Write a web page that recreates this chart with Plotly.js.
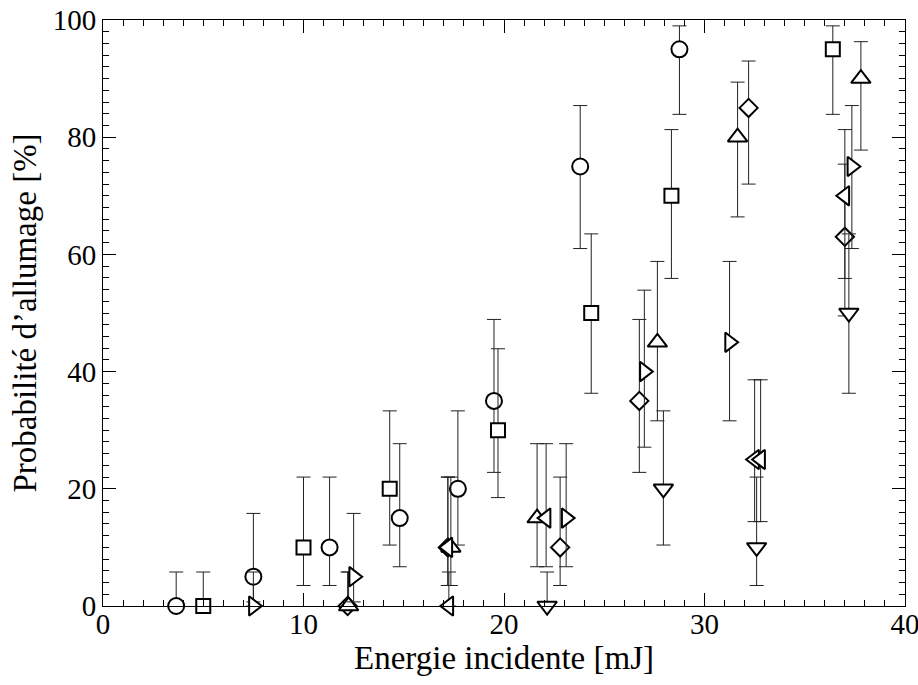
<!DOCTYPE html>
<html>
<head>
<meta charset="utf-8">
<script src="https://cdn.plot.ly/plotly-3.0.1.min.js"></script>
<style>html,body{margin:0;padding:0;background:#fff;}#chart{width:918px;height:685px;}</style>
</head>
<body>
<div id="chart"></div>
<script>
// Energie incidente [mJ], probabilité [%], and bounds of the error bars [%]
const circleE = [3.65, 7.5, 11.3, 14.8, 17.7, 19.5, 23.8, 28.75];
const circleP = [0, 5, 10, 15, 20, 35, 75, 95];
const circleHi = [5.8, 15.8, 22.0, 27.7, 33.3, 48.9, 85.4, 99.0];
const circleLo = [0, 0.7, 3.5, 6.7, 10.4, 22.8, 61.0, 83.9];

const squareE = [5.0, 10.0, 14.3, 19.7, 24.35, 28.35, 36.4];
const squareP = [0, 10, 20, 30, 50, 70, 95];
const squareHi = [5.8, 22.0, 33.3, 43.9, 63.5, 81.3, 99.0];
const squareLo = [0, 3.5, 10.4, 18.5, 36.3, 55.9, 83.9];

const diamondE = [12.2, 17.2, 22.8, 26.75, 32.2, 37.0];
const diamondP = [0, 10, 10, 35, 85, 63];
const diamondHi = [5.8, 22.0, 22.0, 48.9, 93.0, 75.4];
const diamondLo = [0, 3.5, 3.5, 22.8, 72.0, 49.5];

const triUpE = [12.25, 17.35, 21.65, 27.65, 31.65, 37.8];
const triUpP = [0, 10, 15, 45, 80, 90];
const triUpHi = [5.8, 22.0, 27.7, 58.8, 89.4, 96.3];
const triUpLo = [0, 3.5, 6.7, 31.6, 66.4, 77.8];

const triLeftE = [17.25, 17.2, 22.1, 32.5, 32.8, 37.0];
const triLeftP = [0, 10, 15, 25, 25, 70];
const triLeftHi = [5.8, 22.0, 27.7, 38.6, 38.6, 81.3];
const triLeftLo = [0, 3.5, 6.7, 14.4, 14.4, 55.9];

const triDownE = [22.15, 27.95, 32.6, 37.2];
const triDownP = [0, 20, 10, 50];
const triDownHi = [5.8, 33.3, 22.0, 63.5];
const triDownLo = [0, 10.4, 3.5, 36.3];

const triRightE = [7.5, 12.5, 23.1, 27.0, 31.25, 37.35];
const triRightP = [0, 5, 15, 40, 45, 75];
const triRightHi = [5.8, 15.8, 27.7, 53.9, 58.8, 85.4];
const triRightLo = [0, 0.7, 6.7, 27.1, 31.6, 61.0];

const xTickVals = [0, 10, 20, 30, 40];
const yTickVals = [0, 20, 40, 60, 80, 100];

function series(x, y, hi, lo, symbol, size) {
  return {
    type: 'scatter', mode: 'markers', x: x, y: y, cliponaxis: false, showlegend: false,
    marker: {symbol: symbol, size: size, color: '#ffffff', line: {color: '#000000', width: 2}},
    error_y: {type: 'data', symmetric: false,
      array: y.map((v, i) => hi[i] - v), arrayminus: y.map((v, i) => v - lo[i]),
      color: '#222222', thickness: 1, width: 7}
  };
}

const traces = [
  series(circleE, circleP, circleHi, circleLo, 'circle', 16),
  series(squareE, squareP, squareHi, squareLo, 'square', 14),
  series(diamondE, diamondP, diamondHi, diamondLo, 'diamond', 14),
  series(triUpE, triUpP, triUpHi, triUpLo, 'triangle-up', 17),
  series(triLeftE, triLeftP, triLeftHi, triLeftLo, 'triangle-left', 17),
  series(triDownE, triDownP, triDownHi, triDownLo, 'triangle-down', 17),
  series(triRightE, triRightP, triRightHi, triRightLo, 'triangle-right', 17)
];

const fontFam = 'Liberation Serif';
const chartLayout = {
  width: 918, height: 685,
  margin: {l: 103, r: 13, t: 20, b: 79},
  font: {family: fontFam, color: '#000000', size: 29},
  showlegend: false,
  xaxis: {range: [0, 40], tickvals: xTickVals, ticks: 'inside', ticklen: 13, tickcolor: '#000',
          minor: {dtick: 1, ticks: 'inside', ticklen: 6, tickcolor: '#000'},
          showline: true, linecolor: '#000', mirror: 'ticks',
          gridcolor: 'rgba(0,0,0,0)', zerolinecolor: '#000',
          ticklabelstandoff: -8, ticklabeloverflow: 'allow',
          title: {text: 'Energie incidente [mJ]', font: {size: 33}, standoff: 4}},
  yaxis: {range: [0, 100], tickvals: yTickVals, ticks: 'inside', ticklen: 13, tickcolor: '#000',
          minor: {dtick: 2, ticks: 'inside', ticklen: 6, tickcolor: '#000'},
          showline: true, linecolor: '#000', mirror: 'ticks',
          gridcolor: 'rgba(0,0,0,0)', zerolinecolor: '#000',
          title: {text: 'Probabilité d’allumage [%]', font: {size: 33}, standoff: 6}}
};
Plotly.newPlot('chart', traces, chartLayout, {displayModeBar: false}).then(() => {});
</script>
</body>
</html>
